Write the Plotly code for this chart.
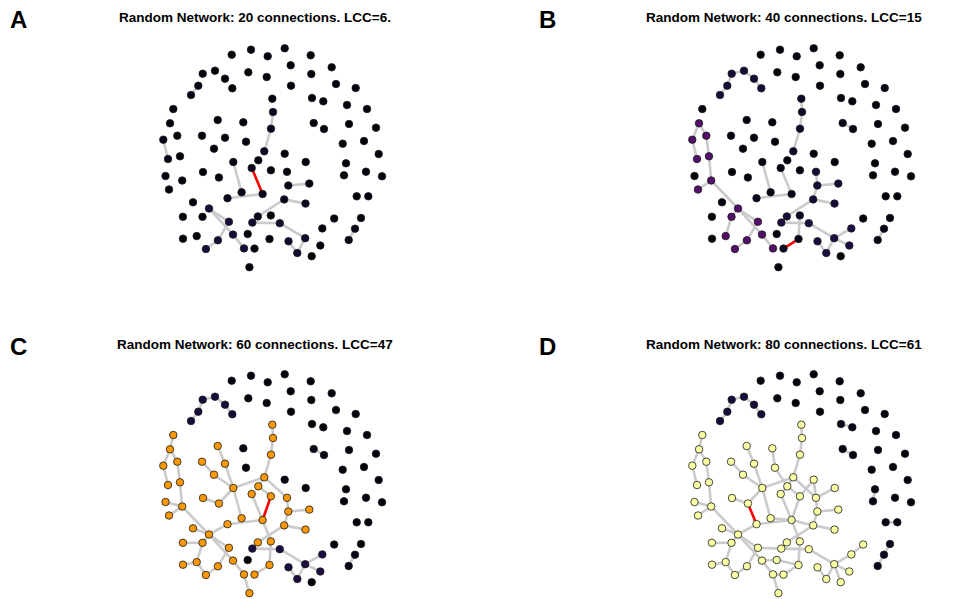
import plotly.graph_objects as go
from plotly.colors import sample_colorscale

# Node layout coordinates (shared by all four panels; y grows downward)
node_x = [231.7, 251.0, 267.7, 284.7, 310.7, 202.7, 215.0, 248.3, 225.0, 266.7,
          290.7, 331.7, 311.3, 198.3, 232.3, 191.0, 291.0, 336.0, 355.7, 272.3,
          312.0, 323.3, 347.0, 367.0, 173.3, 273.0, 217.7, 243.3, 170.0, 271.0,
          313.7, 324.0, 349.0, 376.0, 163.3, 177.3, 202.0, 225.0, 246.0, 342.7,
          364.0, 214.0, 264.3, 284.7, 378.7, 168.0, 180.0, 233.3, 258.3, 251.7,
          270.9, 305.7, 287.0, 346.0, 344.0, 366.0, 382.0, 165.5, 182.2, 203.0,
          218.9, 169.0, 241.6, 262.6, 227.5, 193.0, 209.0, 288.3, 309.3, 356.7,
          368.3, 284.2, 305.5, 182.9, 202.5, 228.9, 257.8, 270.8, 252.3, 279.8,
          334.2, 361.0, 322.3, 355.0, 183.0, 196.7, 233.0, 247.7, 269.5, 217.9,
          205.9, 244.0, 254.5, 305.2, 288.5, 348.7, 320.3, 297.3, 311.7, 249.4]
node_y = [54.7, 49.7, 56.3, 48.3, 55.3, 73.7, 70.7, 72.3, 78.7, 77.0,
          65.3, 67.3, 74.0, 85.7, 88.3, 95.0, 85.7, 84.0, 88.0, 98.7,
          98.0, 101.3, 105.0, 109.0, 109.0, 112.0, 120.0, 122.3, 123.3, 128.7,
          123.0, 129.0, 124.0, 127.7, 139.7, 135.7, 135.7, 137.7, 141.7, 143.7,
          141.0, 148.7, 151.3, 153.7, 154.0, 159.0, 156.3, 162.0, 160.3, 168.0,
          170.3, 162.0, 171.8, 163.3, 175.3, 171.7, 176.3, 176.0, 180.5, 172.0,
          177.5, 189.5, 192.3, 194.0, 198.2, 202.3, 208.5, 185.5, 183.6, 196.3,
          196.3, 199.4, 203.6, 216.8, 216.8, 221.8, 216.4, 215.4, 222.6, 223.2,
          218.5, 218.0, 228.4, 228.7, 238.7, 236.1, 234.6, 234.0, 239.0, 240.3,
          249.0, 248.4, 248.6, 238.2, 241.3, 240.0, 245.5, 253.0, 256.2, 267.2]

# Connections in the order they were added (20 per step)
edges = [
    (13, 15), (34, 45), (25, 29), (29, 42), (47, 62), (64, 63), (66, 75), (66, 86),
    (86, 91), (75, 89), (89, 90), (67, 68), (71, 72), (71, 76), (78, 79), (79, 93),
    (93, 97), (97, 94), (83, 95), (49, 63),
    (58, 66), (46, 58), (28, 35), (61, 58), (35, 46), (66, 74), (74, 85), (6, 8),
    (8, 14), (19, 25), (93, 82), (93, 96), (52, 67), (67, 71), (77, 88), (28, 34),
    (5, 13), (5, 6), (30, 31), (88, 92),
    (57, 58), (85, 84), (64, 66), (24, 28), (73, 74), (47, 60), (59, 60), (37, 47),
    (26, 37), (36, 41), (41, 47), (47, 42), (42, 48), (48, 50), (42, 52), (63, 77),
    (65, 66), (91, 99), (85, 90), (50, 63),
    (20, 21), (69, 70), (53, 54), (81, 83), (75, 78), (27, 38), (38, 48), (43, 50),
    (52, 51), (82, 80), (93, 98), (86, 87), (48, 49), (87, 88), (91, 92), (76, 78),
    (63, 71), (62, 63), (43, 52), (60, 64),
]

panel_edges = [20, 40, 60, 80]
panel_letters = ["A", "B", "C", "D"]
lcc_sizes = [6, 15, 47, 61]
titles = [f"Random Network: {m} connections. LCC={l}" for m, l in zip(panel_edges, lcc_sizes)]
titles[0] += "."
size_max = 61


def component_sizes(n, links):
    parent = list(range(n))

    def find(a):
        while parent[a] != a:
            parent[a] = parent[parent[a]]
            a = parent[a]
        return a

    for a, b in links:
        ra, rb = find(a), find(b)
        if ra != rb:
            parent[ra] = rb
    roots = [find(i) for i in range(n)]
    counts = {}
    for r in roots:
        counts[r] = counts.get(r, 0) + 1
    return [counts[r] for r in roots]


def segments(links):
    xs, ys = [], []
    for a, b in links:
        xs += [node_x[a], node_x[b], None]
        ys += [node_y[a], node_y[b], None]
    return xs, ys


W, H = 959, 599
# pixel box of the first panel; the others are shifted copies
x_lo, x_hi = 150, 395
y_lo, y_hi = 38, 272
col_shift = [0, 529, 0, 529]
row_shift = [0, 0, 326, 326]

fig = go.Figure()
for p in range(4):
    sfx = "" if p == 0 else str(p + 1)
    xa, ya = "x" + sfx, "y" + sfx
    links = edges[:panel_edges[p]]
    sizes = component_sizes(len(node_x), links)
    colors = sample_colorscale("Inferno", [min(s / size_max, 1.0) for s in sizes])

    gx, gy = segments(links[:-1])
    fig.add_trace(go.Scatter(x=gx, y=gy, mode="lines", xaxis=xa, yaxis=ya,
                             line=dict(color="#cbcbcb", width=2.6), hoverinfo="skip"))
    rx, ry = segments(links[-1:])
    fig.add_trace(go.Scatter(x=rx, y=ry, mode="lines", xaxis=xa, yaxis=ya,
                             line=dict(color="#ff0000", width=2.6), hoverinfo="skip"))
    fig.add_trace(go.Scatter(x=node_x, y=node_y, mode="markers", xaxis=xa, yaxis=ya,
                             marker=dict(size=7.5, color=colors,
                                         line=dict(color="#1a1a1a", width=0.8))))

    left, right = x_lo + col_shift[p], x_hi + col_shift[p]
    top, bottom = y_lo + row_shift[p], y_hi + row_shift[p]
    axis_style = dict(visible=False, showgrid=False, zeroline=False, fixedrange=True)
    fig.layout["xaxis" + sfx] = dict(domain=[left / W, right / W], range=[x_lo, x_hi],
                                     anchor=ya, **axis_style)
    fig.layout["yaxis" + sfx] = dict(domain=[1 - bottom / H, 1 - top / H],
                                     range=[y_hi, y_lo], anchor=xa, **axis_style)

    fig.add_annotation(x=(255 + col_shift[p]) / W, y=1 - (18 + row_shift[p]) / H,
                       xref="paper", yref="paper", text=f"<b>{titles[p]}</b>",
                       showarrow=False, xanchor="center", yanchor="middle",
                       font=dict(size=13.5, color="#000000"))
    fig.add_annotation(x=(18 + col_shift[p]) / W, y=1 - (20 + row_shift[p]) / H,
                       xref="paper", yref="paper", text=f"<b>{panel_letters[p]}</b>",
                       showarrow=False, xanchor="center", yanchor="middle",
                       font=dict(size=24, color="#000000"))

fig.update_layout(width=W, height=H, margin=dict(l=0, r=0, t=0, b=0),
                  paper_bgcolor="white", plot_bgcolor="white", showlegend=False,
                  font=dict(family="Liberation Sans, Arial, sans-serif"))
fig.write_html("out.html")
